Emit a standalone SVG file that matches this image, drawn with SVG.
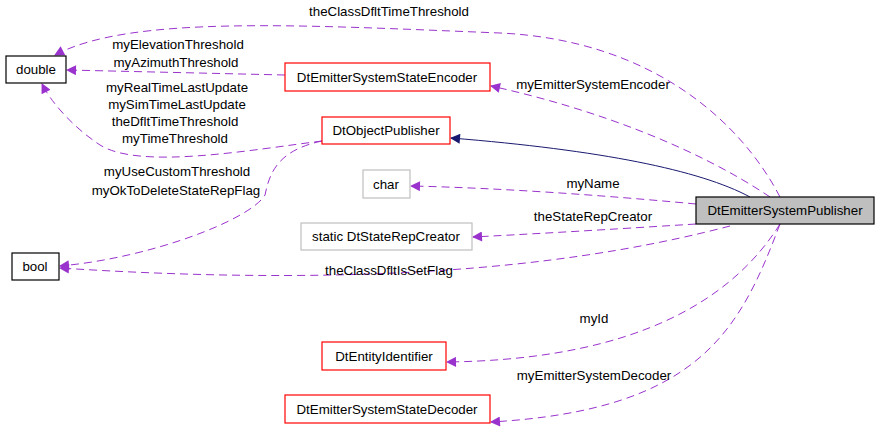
<svg xmlns="http://www.w3.org/2000/svg" width="880" height="429" viewBox="0 0 880 429">
<style>
text{font-family:"Liberation Sans",Arial,sans-serif;font-size:13.3px;fill:#000;text-anchor:middle}
.n rect{fill:#fff;stroke-width:1.2}
.red rect{stroke:#f00}.blk rect{stroke:#000}.gry rect{stroke:#bfbfbf}
.e{fill:none;stroke:#9a32cd;stroke-dasharray:8,5;marker-end:url(#pa)}
.inh{fill:none;stroke:#191970;marker-end:url(#na)}
</style>
<defs>
<marker id="pa" viewBox="0 0 10 10" refX="9" refY="5" markerWidth="13" markerHeight="10" markerUnits="userSpaceOnUse" orient="auto"><path d="M0,0L10,5L0,10z" fill="#9a32cd"/></marker>
<marker id="na" viewBox="0 0 10 10" refX="9" refY="5" markerWidth="13" markerHeight="10" markerUnits="userSpaceOnUse" orient="auto"><path d="M0,0L10,5L0,10z" fill="#191970"/></marker>
</defs>
<rect width="880" height="429" fill="#fff"/>
<g id="edges">
<path class="inh" d="M750,197 C700,170 600,150 451,138"/>
<path class="e" d="M780,197 C740,120 650,40 500,33 C300,25 130,15 55,55"/>
<path class="e" d="M770,197 C700,150 600,110 491,86"/>
<path class="e" d="M285,75 L67,70"/>
<path class="e" d="M322,141 C250,150 140,170 100,145 C70,125 50,100 42,84"/>
<path class="e" d="M322,141 C280,150 270,170 265,195 C250,220 150,258 60,266"/>
<path class="e" d="M696,204 C600,195 500,188 411,186"/>
<path class="e" d="M696,224 C600,230 550,233 473,237"/>
<path class="e" d="M730,226 C600,260 400,290 60,268"/>
<path class="e" d="M780,224 C720,320 600,360 447,362"/>
<path class="e" d="M780,224 C740,330 700,410 491,422"/>
<text x="389" y="16">theClassDfltTimeThreshold</text>
<text x="593" y="89">myEmitterSystemEncoder</text>
<text x="178" y="49">myElevationThreshold</text>
<text x="176" y="67">myAzimuthThreshold</text>
<text x="177" y="92">myRealTimeLastUpdate</text>
<text x="177" y="109">mySimTimeLastUpdate</text>
<text x="175" y="126">theDfltTimeThreshold</text>
<text x="175" y="143">myTimeThreshold</text>
<text x="177" y="176">myUseCustomThreshold</text>
<text x="176" y="195">myOkToDeleteStateRepFlag</text>
<text x="593" y="188">myName</text>
<text x="593" y="221">theStateRepCreator</text>
<text x="389" y="275">theClassDfltIsSetFlag</text>
<text x="594" y="323">myId</text>
<text x="594" y="380">myEmitterSystemDecoder</text>
</g>
<g id="double" class="n blk"><rect x="6" y="56" width="60" height="27"/><text x="36" y="74">double</text></g>
<g id="bool" class="n blk"><rect x="12" y="253" width="47" height="27"/><text x="35" y="271">bool</text></g>
<g id="encoder" class="n red"><rect x="285" y="63" width="205" height="28"/><text x="387" y="82">DtEmitterSystemStateEncoder</text></g>
<g id="objpub" class="n red"><rect x="322" y="117" width="128" height="27"/><text x="386" y="135">DtObjectPublisher</text></g>
<g id="char" class="n gry"><rect x="363" y="170" width="47" height="28"/><text x="386" y="189">char</text></g>
<g id="creator" class="n gry"><rect x="301" y="223" width="171" height="27"/><text x="386" y="241">static DtStateRepCreator</text></g>
<g id="entity" class="n red"><rect x="322" y="342" width="124" height="28"/><text x="384" y="361">DtEntityIdentifier</text></g>
<g id="decoder" class="n red"><rect x="285" y="395" width="205" height="28"/><text x="387" y="414">DtEmitterSystemStateDecoder</text></g>
<g id="publisher"><rect x="696" y="197" width="178" height="27" fill="#bfbfbf" stroke="#000" stroke-width="1.2"/><text x="785" y="215">DtEmitterSystemPublisher</text></g>
</svg>
